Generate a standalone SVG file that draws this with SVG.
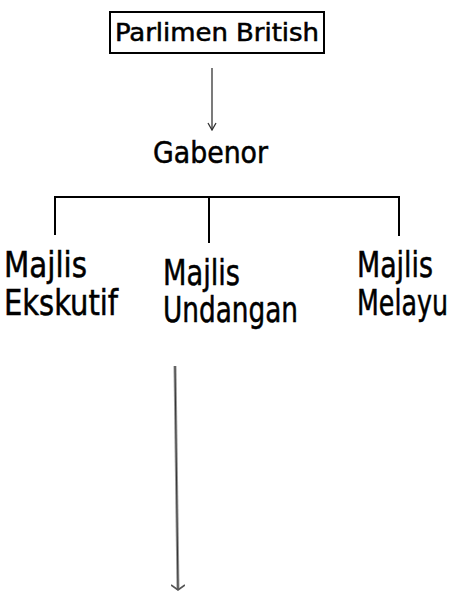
<svg xmlns="http://www.w3.org/2000/svg" width="456" height="594" viewBox="0 0 456 594">
<defs>
<style>
text{font-family:"DejaVu Sans",Verdana,sans-serif;font-stretch:condensed;fill:#000;stroke:#000;stroke-width:0.5}
.big{font-size:36px}
.line{stroke:#000;stroke-width:2;fill:none}
</style>
<marker id="ah" viewBox="0 0 10 10" refX="5" refY="9" markerWidth="10" markerHeight="10" markerUnits="userSpaceOnUse" orient="0">
<path d="M1,2 L5,9 L9,2" fill="none" stroke="#333" stroke-width="1.3"/>
</marker>
<marker id="ah2" viewBox="0 0 14 10" refX="7" refY="8" markerWidth="14" markerHeight="10" markerUnits="userSpaceOnUse" orient="0">
<path d="M0,3 L7,8 L14,3" fill="none" stroke="#555" stroke-width="1.8"/>
</marker>
</defs>
<rect width="456" height="594" fill="#fff"/>
<g id="parlimen">
<rect x="110" y="12" width="214" height="41" fill="#fff" stroke="#000" stroke-width="2"/>
<text x="115" y="41" font-size="25" textLength="204" lengthAdjust="spacingAndGlyphs">Parlimen British</text>
</g>
<g id="gabenor">
<text x="153" y="163" font-size="31" textLength="115" lengthAdjust="spacingAndGlyphs">Gabenor</text>
</g>
<g id="ekskutif">
<text x="4" y="277" class="big" textLength="83" lengthAdjust="spacingAndGlyphs">Majlis</text>
<text x="4" y="315" class="big" textLength="114" lengthAdjust="spacingAndGlyphs">Ekskutif</text>
</g>
<g id="undangan">
<text x="163" y="285" class="big" textLength="77" lengthAdjust="spacingAndGlyphs">Majlis</text>
<text x="163" y="322" class="big" textLength="135" lengthAdjust="spacingAndGlyphs">Undangan</text>
</g>
<g id="melayu">
<text x="357" y="277" class="big" textLength="76" lengthAdjust="spacingAndGlyphs">Majlis</text>
<text x="357" y="315" class="big" textLength="91" lengthAdjust="spacingAndGlyphs">Melayu</text>
</g>
<g id="connectors">
<line x1="212" y1="68" x2="212" y2="130" stroke="#333" stroke-width="1.3" marker-end="url(#ah)"/>
<path class="line" d="M55,235 V197 H399 V236 M209,197 V243"/>
<line x1="175" y1="366" x2="178" y2="590" stroke="#999" stroke-width="3"/>
<line x1="175" y1="366" x2="178" y2="590" stroke="#333" stroke-width="1" marker-end="url(#ah2)"/>
</g>
</svg>
